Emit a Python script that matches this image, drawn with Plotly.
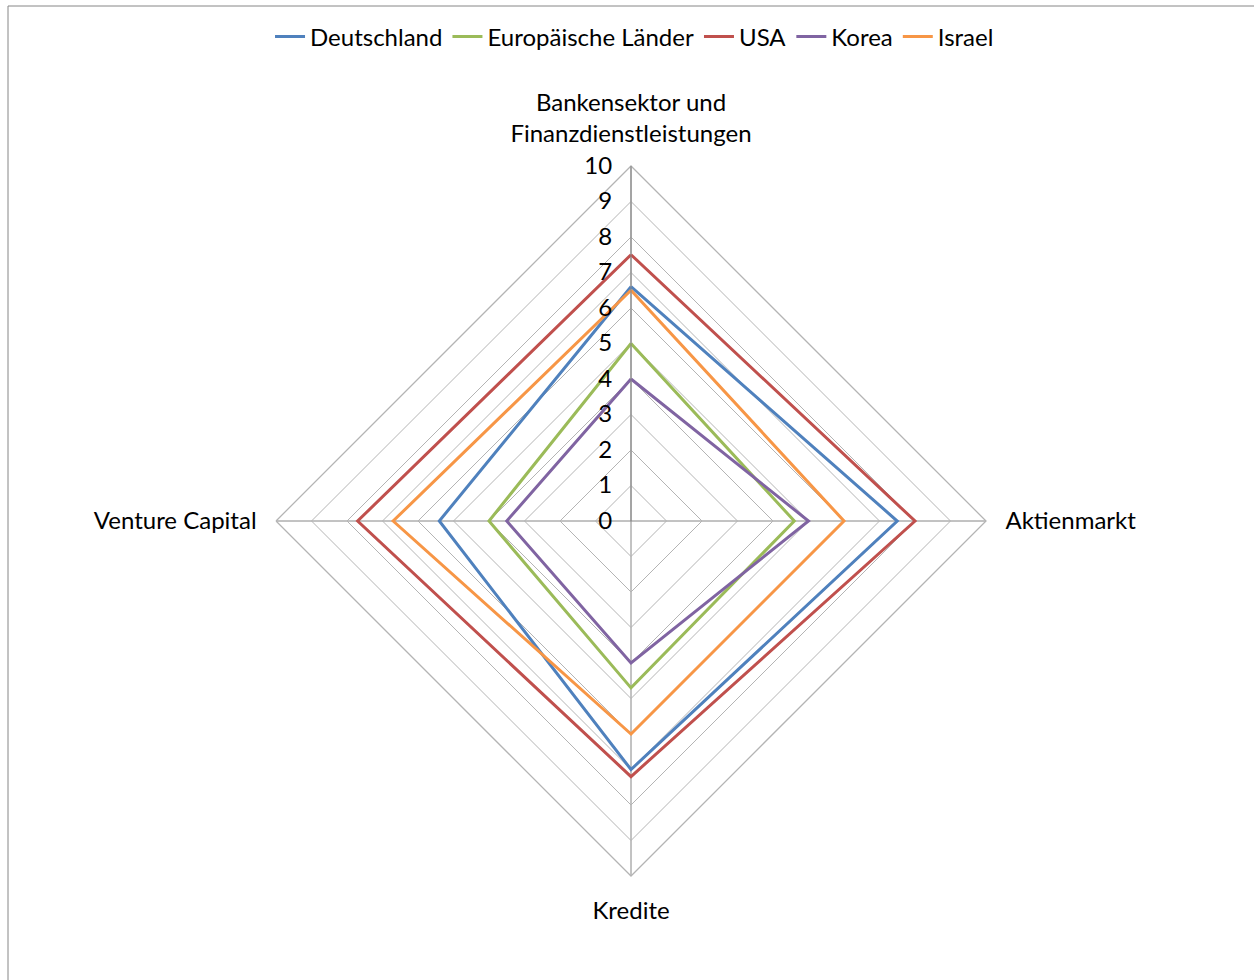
import plotly.graph_objects as go

categories = ["Bankensektor und<br>Finanzdienstleistungen", "Aktienmarkt", "Kredite", "Venture Capital"]

deutschland = [6.6, 7.5, 7.0, 5.4]
europa = [5.0, 4.6, 4.7, 4.0]
usa = [7.5, 8.0, 7.2, 7.7]
korea = [4.0, 5.0, 4.0, 3.5]
israel = [6.5, 6.0, 6.0, 6.7]

series = [
    ("Deutschland", deutschland, "#4F81BD"),
    ("Europäische Länder", europa, "#9BBB59"),
    ("USA", usa, "#C0504D"),
    ("Korea", korea, "#8064A2"),
    ("Israel", israel, "#F79646"),
]

W, H = 1254, 980
cx, cy, R = 631, 521, 355

fig = go.Figure()
for name, vals, color in series:
    fig.add_trace(go.Scatterpolar(
        r=vals + vals[:1],
        theta=categories + categories[:1],
        mode="lines",
        name=name,
        line=dict(color=color, width=3),
    ))

fig.update_layout(
    width=W, height=H,
    margin=dict(l=0, r=0, t=0, b=0),
    paper_bgcolor="white",
    font=dict(family="Lato", size=24, color="#000000"),
    showlegend=True,
    legend=dict(orientation="h", x=0.506, xanchor="center", y=1 - 37 / H, yanchor="middle",
                font=dict(size=24), itemwidth=30, tracegroupgap=0),
    polar=dict(
        domain=dict(x=[(cx - R) / W, (cx + R) / W], y=[(H - cy - R) / H, (H - cy + R) / H]),
        gridshape="linear",
        bgcolor="white",
        radialaxis=dict(
            range=[0, 10], dtick=1, angle=90, tickangle=90, side="counterclockwise",
            showline=True, linecolor="#868686", linewidth=1,
            gridcolor="#B4B4B4", gridwidth=1.3,
            ticks="outside", ticklen=10, tickcolor="rgba(0,0,0,0)",
            tickfont=dict(size=24),
        ),
        angularaxis=dict(
            direction="clockwise", rotation=90,
            showline=True, linecolor="#B4B4B4", linewidth=1.3,
            gridcolor="#868686", gridwidth=1,
            ticks="outside", ticklen=14, tickcolor="rgba(0,0,0,0)",
            tickfont=dict(size=24),
        ),
    ),
    shapes=[
        dict(type="line", xref="paper", yref="paper", x0=8 / W, x1=1, y0=1 - 6 / H, y1=1 - 6 / H,
             line=dict(color="#868686", width=1)),
        dict(type="line", xref="paper", yref="paper", x0=8 / W, x1=8 / W, y0=0, y1=1 - 6 / H,
             line=dict(color="#868686", width=1)),
    ],
)

fig.write_html("out.html")
